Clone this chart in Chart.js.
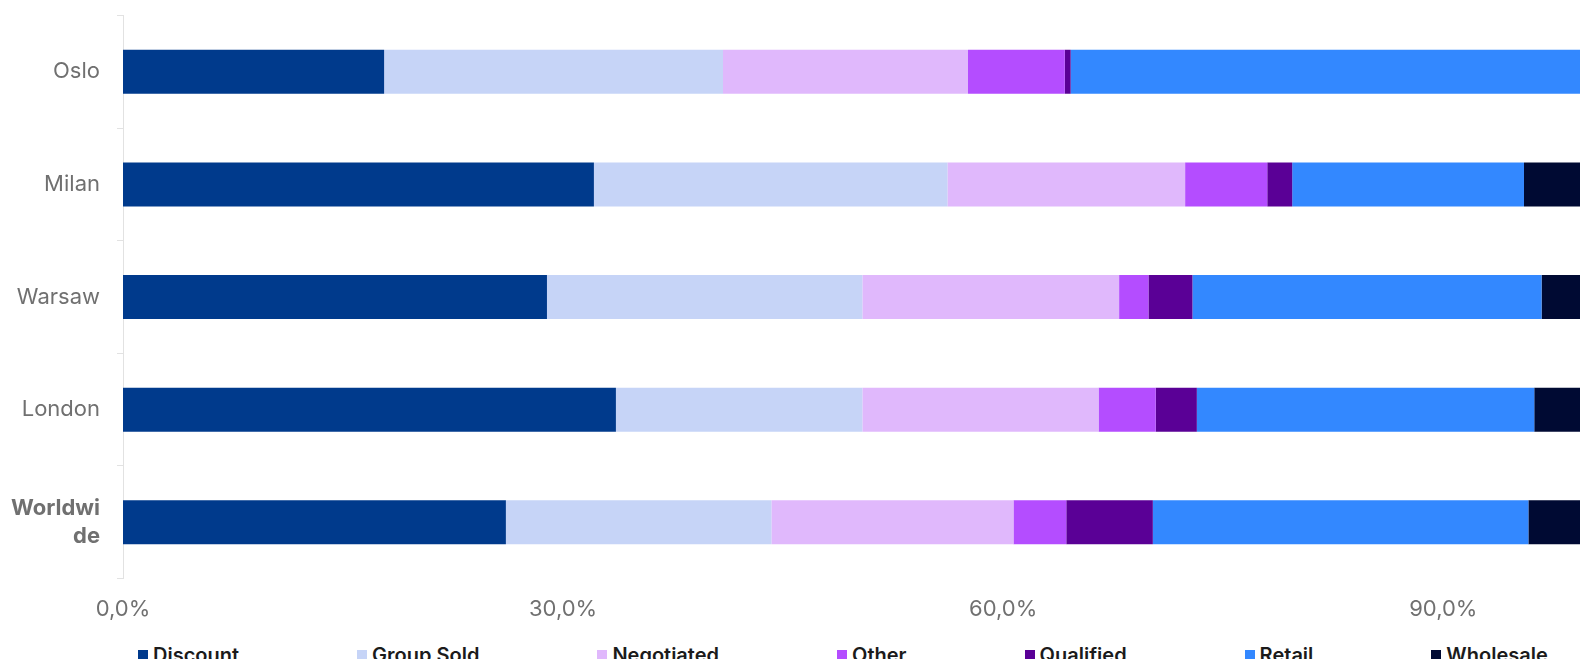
<!DOCTYPE html>
<html>
<head>
<meta charset="utf-8">
<script src="https://cdn.jsdelivr.net/npm/chart.js@4/dist/chart.umd.min.js"></script>
<style>
  html, body { margin: 0; padding: 0; background: #ffffff; overflow: hidden; }
  #wrap { position: absolute; left: 0; top: -29px; width: 1690px; height: 670px; }
  #legend {
    position: absolute; left: 138px; top: 643px;
    display: flex; gap: 118px; align-items: center;
    font-family: Inter, "Noto Sans", sans-serif; font-size: 20px; font-weight: 600; color: #1b1b1b;
    white-space: nowrap;
  }
  #legend span.box { display: inline-block; width: 10px; height: 10px; margin-right: 5px; vertical-align: middle; }
  #legend .item { display: flex; align-items: center; }
</style>
</head>
<body>
<div id="wrap"><canvas id="mix-chart"></canvas></div>
<div id="legend"></div>
<script>
// Catégories et séries (parts en %)
const categories = ['Oslo', 'Milan', 'Warsaw', 'London', 'Worldwide'];
const seriesNames = ['Discount', 'Group Sold', 'Negotiated', 'Other', 'Qualified', 'Retail', 'Wholesale'];
const seriesColors = ['#003a8c', '#c6d4f7', '#e0b8fc', '#b44dff', '#5a0096', '#3388ff', '#000a33'];

const discount   = [17.8, 32.1, 28.9, 33.6, 26.1];
const groupSold  = [23.1, 24.1, 21.5, 16.8, 18.1];
const negotiated = [16.7, 16.2, 17.5, 16.1, 16.5];
const other      = [6.6, 5.6, 2.0, 3.9, 3.6];
const qualified  = [0.4, 1.7, 3.0, 2.8, 5.9];
const retail     = [35.4, 15.8, 23.8, 23.0, 25.6];
const wholesale  = [0, 4.5, 3.3, 3.8, 4.2];

const xTicks = [0, 30, 60, 90];

const seriesValues = [discount, groupSold, negotiated, other, qualified, retail, wholesale];

// Légende HTML (espacement large comme dans l'original)
const legendEl = document.getElementById('legend');
seriesNames.forEach((name, i) => {
  const item = document.createElement('div');
  item.className = 'item';
  item.innerHTML = '<span class="box" style="background:' + seriesColors[i] + '"></span>' + name;
  legendEl.appendChild(item);
});

const ctx = document.getElementById('mix-chart').getContext('2d');

const mixChart = new Chart(ctx, {
  type: 'bar',
  data: {
    labels: categories,
    datasets: seriesNames.map((name, i) => ({
      label: name,
      data: seriesValues[i],
      backgroundColor: seriesColors[i],
      borderWidth: 0,
      barPercentage: 0.39,
      categoryPercentage: 1
    }))
  },
  options: {
    indexAxis: 'y',
    responsive: true,
    maintainAspectRatio: false,
    animation: false,
    layout: {
      padding: { top: 15, right: 100, left: 0, bottom: 0 }
    },
    plugins: {
      legend: { display: false },
      tooltip: { enabled: false }
    },
    scales: {
      x: {
        stacked: true,
        min: 0,
        max: 100,
        grid: { display: false, drawTicks: false },
        border: { display: false },
        afterBuildTicks: function(scale) {
          scale.ticks = xTicks.map(v => ({ value: v }));
        },
        ticks: {
          autoSkip: false,
          padding: 18,
          color: '#707070',
          font: { family: 'Inter', size: 22 },
          callback: function(value) {
            return value.toFixed(1).replace('.', ',') + '%';
          }
        }
      },
      y: {
        stacked: true,
        grid: {
          drawOnChartArea: false,
          tickLength: 6,
          color: '#e2e2e2'
        },
        border: { color: '#e2e2e2' },
        afterFit: function(scale) {
          scale.width = 123;
        },
        ticks: {
          padding: 17,
          color: '#707070',
          font: function(c) {
            return c.index === 4
              ? { family: 'Inter', size: 22, weight: 'bold', lineHeight: 1.25 }
              : { family: 'Inter', size: 22, lineHeight: 1.25 };
          },
          callback: function(value) {
            const label = this.getLabelForValue(value);
            // Le libellé long est coupé sur deux lignes
            return label.length > 8 ? [label.slice(0, 7), label.slice(7)] : label;
          }
        }
      }
    }
  }
});
</script>
</body>
</html>
